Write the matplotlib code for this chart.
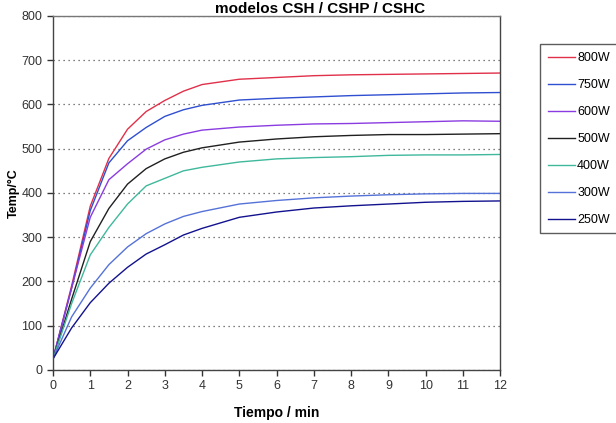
import matplotlib
matplotlib.use("Agg")
import matplotlib.pyplot as plt

plt.rcParams["font.family"] = ["Liberation Sans", "DejaVu Sans"]

# time in minutes
tiempo = [0, 0.5, 1, 1.5, 2, 2.5, 3, 3.5, 4, 5, 6, 7, 8, 9, 10, 11, 12]

# temperature curves (°C) per power
t_800 = [25, 190, 370, 478, 544, 584, 609, 630, 645, 657, 661, 665, 667, 668, 669, 670, 671]
t_750 = [25, 185, 360, 468, 518, 548, 573, 588, 598, 610, 614, 617, 620, 622, 624, 626, 627]
t_600 = [25, 185, 345, 430, 466, 499, 520, 533, 542, 549, 553, 556, 557, 559, 561, 563, 562]
t_500 = [25, 160, 290, 365, 420, 455, 477, 492, 502, 515, 522, 527, 530, 532, 532, 533, 534]
t_400 = [25, 150, 260, 322, 375, 416, 433, 450, 458, 470, 477, 480, 482, 485, 486, 486, 487]
t_300 = [25, 120, 185, 238, 278, 308, 330, 347, 358, 375, 383, 389, 393, 396, 398, 399, 399]
t_250 = [25, 95, 152, 196, 232, 262, 283, 305, 320, 345, 357, 366, 371, 375, 379, 381, 382]

labels = ["800W", "750W", "600W", "500W", "400W", "300W", "250W"]
series = [t_800, t_750, t_600, t_500, t_400, t_300, t_250]
colors = ["#e0304a", "#2f4fd0", "#8a3ce0", "#202020", "#3fb89c", "#5572d8", "#12128f"]

fig = plt.figure(figsize=(6.16, 4.23), dpi=100)
ax = fig.add_axes([0.086, 0.1253, 0.726, 0.837])

for vals, lab, col in zip(series, labels, colors):
    ax.plot(tiempo, vals, color=col, linewidth=1.0, label=lab)

ax.set_xlim(0, 12)
ax.set_ylim(0, 800)
ax.set_xticks(range(0, 13))
ax.set_yticks(range(0, 801, 100))
ax.tick_params(direction="out", length=4, width=1, labelsize=9, colors="#333333")
ax.yaxis.grid(True, linestyle=(0, (1, 3)), color="#555555", linewidth=0.9)
ax.set_axisbelow(True)
for sp in ax.spines.values():
    sp.set_color("#444444")
    sp.set_linewidth(1.0)
ax.spines["top"].set_color("#777777")

ax.set_xlabel("Tiempo / min", fontsize=10, fontweight="bold", labelpad=10)
ax.set_ylabel("Temp/°C", fontsize=9, fontweight="bold", labelpad=1)

fig.text(0.519, 0.969, "modelos CSH / CSHP / CSHC", fontsize=11,
         fontweight="bold", ha="center", va="baseline")

leg = fig.legend(loc="upper left", bbox_to_anchor=(0.877, 0.895),
                 frameon=True, fancybox=False, fontsize=9, handlelength=2.2,
                 handletextpad=0.15, labelspacing=1.2, borderpad=0.6,
                 borderaxespad=0)
leg.get_frame().set_edgecolor("#333333")
leg.get_frame().set_linewidth(1.0)

fig.savefig("out.png", dpi=100)
